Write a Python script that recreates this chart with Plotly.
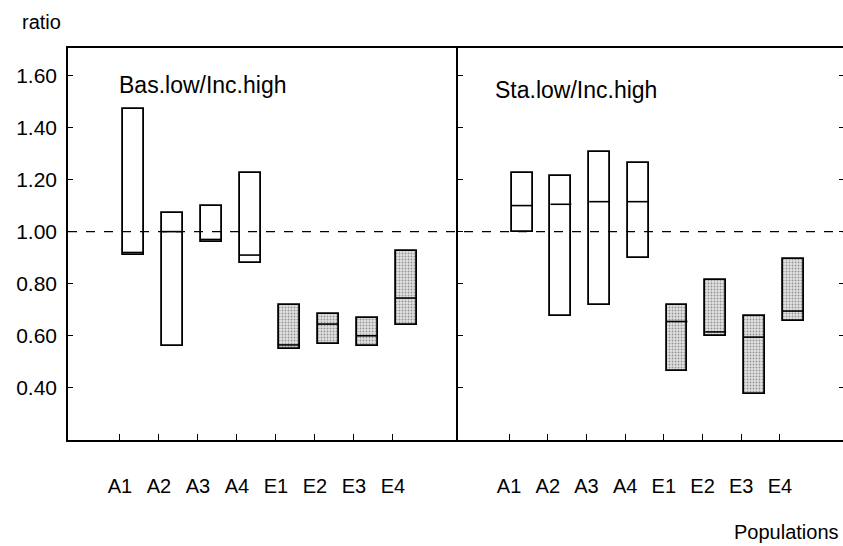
import plotly.graph_objects as go

populations = ["A1", "A2", "A3", "A4", "E1", "E2", "E3", "E4"]
is_e = [False, False, False, False, True, True, True, True]

# Bas.low/Inc.high panel: low, median, high
bas_low = [0.91, 0.56, 0.96, 0.88, 0.55, 0.57, 0.56, 0.64]
bas_med = [0.92, 1.00, 0.97, 0.91, 0.565, 0.645, 0.60, 0.745]
bas_high = [1.47, 1.07, 1.10, 1.225, 0.72, 0.685, 0.67, 0.925]

# Sta.low/Inc.high panel
sta_low = [1.00, 0.675, 0.72, 0.90, 0.465, 0.60, 0.375, 0.655]
sta_med = [1.10, 1.105, 1.115, 1.115, 0.655, 0.615, 0.595, 0.695]
sta_high = [1.225, 1.215, 1.305, 1.265, 0.72, 0.815, 0.675, 0.895]

ref_value = 1.00
y_ticks = [0.40, 0.60, 0.80, 1.00, 1.20, 1.40, 1.60]

FONT = "Liberation Sans"
OFF = 0.34
W = 0.54

fig = go.Figure()

def add_panel(low, med, high, xa, ya):
    xs = [i + OFF for i in range(len(populations))]
    fills = ["#e2e2e2" if e else "white" for e in is_e]
    shapes = ["." if e else "" for e in is_e]
    fig.add_trace(go.Bar(
        x=xs, y=[h - l for h, l in zip(high, low)], base=low, width=W,
        xaxis=xa, yaxis=ya,
        marker=dict(color=fills, line=dict(color="black", width=1.8),
                    pattern=dict(shape=shapes, fgcolor="#7a7a7a", size=3, solidity=0.3)),
        hoverinfo="skip", showlegend=False))
    mx, my = [], []
    for x, m in zip(xs, med):
        mx += [x - W / 2, x + W / 2, None]
        my += [m, m, None]
    fig.add_trace(go.Scatter(x=mx, y=my, mode="lines", xaxis=xa, yaxis=ya,
                             line=dict(color="black", width=1.6),
                             hoverinfo="skip", showlegend=False))

add_panel(bas_low, bas_med, bas_high, "x", "y")
add_panel(sta_low, sta_med, sta_high, "x2", "y2")
# invisible trace for right-side tick axis
fig.add_trace(go.Scatter(x=[0], y=[ref_value], xaxis="x2", yaxis="y3",
                         mode="markers", marker=dict(opacity=0),
                         hoverinfo="skip", showlegend=False))

split = 390 / 775
yr = [0.2, 1.705]
xcommon = dict(tickmode="array", tickvals=list(range(len(populations))),
               ticktext=populations, ticks="inside", ticklen=6, tickcolor="black",
               showline=True, linecolor="black", linewidth=1.5, showgrid=False,
               zeroline=False, tickfont=dict(family=FONT, size=20, color="black"),
               ticklabelstandoff=27, automargin=False)
ycommon = dict(range=yr, tickvals=y_ticks, ticks="inside", ticklen=5,
               tickcolor="black", showline=True, linecolor="black", linewidth=1.5,
               showgrid=False, zeroline=False, automargin=False)

fig.update_layout(
    width=843, height=546,
    margin=dict(l=68, r=0, t=48, b=106),
    paper_bgcolor="white", plot_bgcolor="white",
    bargap=0,
    xaxis=dict(domain=[0, split], range=[-1.33, 8.67], mirror=True, anchor="y", **xcommon),
    xaxis2=dict(domain=[split, 1], range=[-1.32, 8.63], mirror=True, anchor="y2", **xcommon),
    yaxis=dict(anchor="x", mirror=False, tickformat=".2f",
               tickfont=dict(family=FONT, size=21, color="black"), ticklabelstandoff=5,
               **ycommon),
    yaxis2=dict(anchor="x2", showticklabels=False, **ycommon),
    yaxis3=dict(anchor="x2", overlaying="y2", side="right", range=yr, tickvals=y_ticks,
                ticks="inside", ticklen=4, tickcolor="black", showline=False,
                showticklabels=False, showgrid=False, zeroline=False, automargin=False),
    shapes=[dict(type="line", xref="paper", x0=0, x1=1, yref="y", y0=ref_value, y1=ref_value,
                 line=dict(color="black", width=1.3, dash="dash"))],
    annotations=[
        dict(text="Bas.low/Inc.high", xref="paper", yref="paper", x=(117 - 68) / 775,
             y=(440 - 85) / 392, xanchor="left", yanchor="middle", showarrow=False,
             font=dict(family=FONT, size=23, color="black")),
        dict(text="Sta.low/Inc.high", xref="paper", yref="paper", x=(493 - 68) / 775,
             y=(440 - 90) / 392, xanchor="left", yanchor="middle", showarrow=False,
             font=dict(family=FONT, size=23, color="black")),
        dict(text="ratio", xref="paper", yref="paper", x=(20 - 68) / 775,
             y=(440 - 22) / 392, xanchor="left", yanchor="middle", showarrow=False,
             font=dict(family=FONT, size=20, color="black")),
        dict(text="Populations", xref="paper", yref="paper", x=0.998,
             y=(440 - 532) / 392, xanchor="right", yanchor="middle", showarrow=False,
             font=dict(family=FONT, size=20, color="black")),
    ],
)

fig.write_html("out.html", config={"displayModeBar": False},
               post_script="document.body.style.margin='0';")
